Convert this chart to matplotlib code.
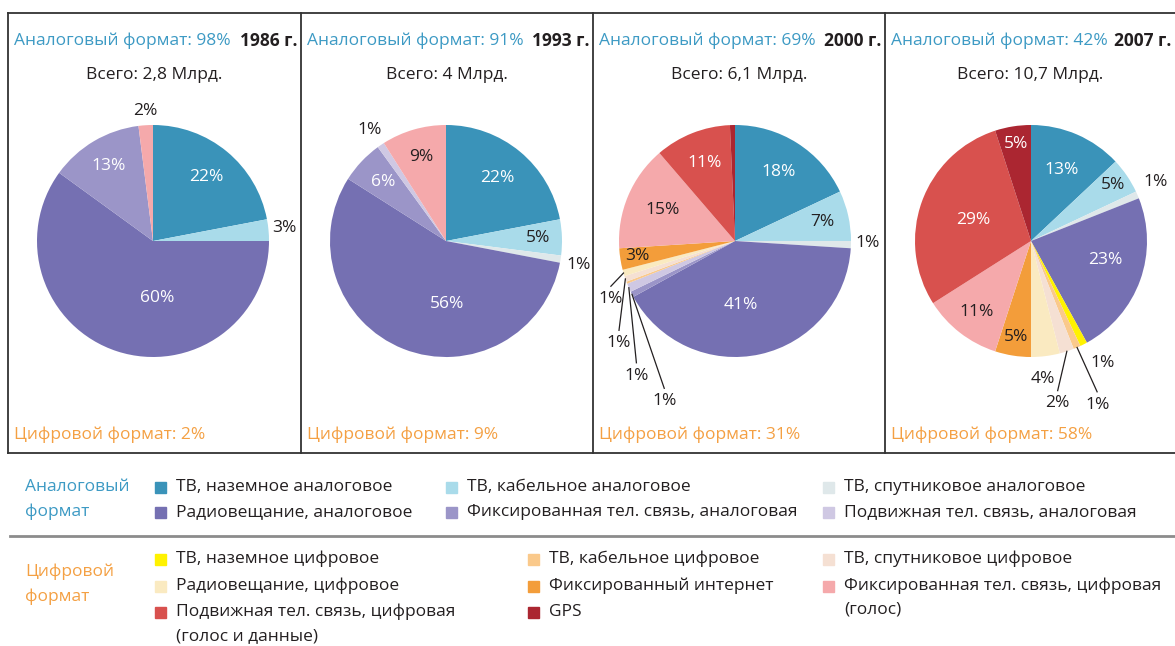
import numpy as np
import matplotlib.pyplot as plt

plt.rcParams['font.family'] = ['Open Sans', 'DejaVu Sans']

# categories (analog first, then digital)
categories = [
    "ТВ, наземное аналоговое", "ТВ, кабельное аналоговое", "ТВ, спутниковое аналоговое",
    "Радиовещание, аналоговое", "Фиксированная тел. связь, аналоговая", "Подвижная тел. связь, аналоговая",
    "ТВ, наземное цифровое", "ТВ, кабельное цифровое", "ТВ, спутниковое цифровое",
    "Радиовещание, цифровое", "Фиксированный интернет", "Фиксированная тел. связь, цифровая\n(голос)",
    "Подвижная тел. связь, цифровая\n(голос и данные)", "GPS",
]
colors = ["#3a93b9", "#a9dbea", "#dfe8ea", "#7570b2", "#9b95c8", "#cfc8e3",
          "#fff200", "#fac98b", "#f5e0d3", "#faeac1", "#f39d3a", "#f5a9ab",
          "#d8514e", "#ab2631"]
text_white = [0, 3, 4, 12, 13]

years = ["1986 г.", "1993 г.", "2000 г.", "2007 г."]
totals = ["2,8", "4", "6,1", "10,7"]
analog_share = [98, 91, 69, 42]
digital_share = [2, 9, 31, 58]

v1986 = [22, 3, 0, 60, 13, 0, 0, 0, 0, 0, 0, 2, 0, 0]
v1993 = [22, 5, 1, 56, 6, 1, 0, 0, 0, 0, 0, 9, 0, 0]
v2000 = [18, 7, 1, 41, 0.8, 1.2, 0, 0.3, 0.8, 0.9, 3, 14.7, 10.6, 0.7]
v2007 = [13, 5, 1, 23, 0, 0, 1, 1, 2, 4, 5, 11, 29, 5]
values = [v1986, v1993, v2000, v2007]

# label placement: ('in', dist) along mid angle, or ('xy', dx, dy, leader)
label_layout = [
    {0: ('in', .72), 1: ('xy', 1.13, .11, False), 3: ('xy', .04, -.49, False),
     4: ('in', .75), 11: ('xy', -.07, 1.12, False)},
    {0: ('in', .70), 1: ('in', .79), 2: ('xy', 1.14, -.21, False), 3: ('xy', .01, -.54, False),
     4: ('in', .745), 5: ('xy', -.655, .957, False), 11: ('in', .75)},
    {0: ('in', .70), 1: ('in', .77), 2: ('xy', 1.145, -.02, False), 3: ('xy', .05, -.55, False),
     4: ('xy', -.61, -1.38, True), 5: ('xy', -.85, -1.16, True), 8: ('xy', -1.0, -.88, True),
     9: ('xy', -1.07, -.50, True), 10: ('in', .85), 11: ('in', .68), 12: ('in', .72)},
    {0: ('in', .67), 1: ('in', .86), 2: ('xy', 1.07, .51, False), 3: ('xy', .64, -.16, False),
     6: ('xy', .62, -1.05, False), 7: ('xy', .57, -1.41, True), 8: ('xy', .23, -1.40, True),
     9: ('xy', .10, -1.19, False), 10: ('in', .84), 11: ('in', .77), 12: ('in', .53), 13: ('in', .846)},
]

W, H = 1175, 646
blue = "#3d9ac4"
orange = "#f4a043"
dark = "#231f20"
fs = 12.5

fig = plt.figure(figsize=(W / 100, H / 100), dpi=100)
bg = fig.add_axes([0, 0, 1, 1])
bg.set_xlim(0, W)
bg.set_ylim(H, 0)
bg.axis('off')

box_x = [8, 301, 593, 885, 1175]
centers = [153, 446, 735, 1031]
cy, r, k = 241, 116, 1.6

# boxes
bg.plot([box_x[0], W], [13, 13], color="#333333", lw=1.3)
bg.plot([box_x[0], W], [453, 453], color="#333333", lw=1.3)
for x in box_x[:4]:
    bg.plot([x, x], [13, 453], color="#333333", lw=1.3)

for i in range(4):
    x0, x1 = box_x[i], box_x[i + 1]
    bg.text(x0 + 6, 41, f"Аналоговый формат: {analog_share[i]}%", color=blue, fontsize=fs, va='center')
    bg.text(x1 - 4, 41, years[i], color=dark, fontsize=fs, fontweight='bold', va='center', ha='right')
    bg.text((x0 + x1) / 2, 75, f"Всего: {totals[i]} Млрд.", color=dark, fontsize=fs, va='center', ha='center')
    bg.text(x0 + 6, 435, f"Цифровой формат: {digital_share[i]}%", color=orange, fontsize=fs, va='center')

    cx = centers[i]
    ax = fig.add_axes([(cx - k * r) / W, (H - cy - k * r) / H, 2 * k * r / W, 2 * k * r / H])
    vals = values[i]
    ax.pie(vals, colors=colors, startangle=90, counterclock=False, radius=1,
           wedgeprops=dict(linewidth=0))
    ax.set_xlim(-k, k)
    ax.set_ylim(-k, k)
    ax.set_aspect('equal')
    ax.axis('off')

    cum = np.cumsum([0] + list(vals)) / sum(vals)
    for j, spec in label_layout[i].items():
        mid = np.deg2rad(90 - 360 * (cum[j] + cum[j + 1]) / 2)
        txt = f"{round(vals[j])}%"
        if spec[0] == 'in':
            px, py = spec[1] * np.cos(mid), spec[1] * np.sin(mid)
            c = "white" if j in text_white else dark
        else:
            px, py = spec[1], spec[2]
            c = "white" if (j in text_white and spec[1] ** 2 + spec[2] ** 2 < 1) else dark
            if spec[3]:
                ax.plot([np.cos(mid), px], [np.sin(mid), py + 0.11], color=dark, lw=0.9, clip_on=False)
        ax.text(px, py, txt, color=c, fontsize=fs, ha='center', va='center', clip_on=False)

# legend
bg.text(25, 487, "Аналоговый", color=blue, fontsize=fs, va='center')
bg.text(25, 512, "формат", color=blue, fontsize=fs, va='center')
bg.text(25, 572, "Цифровой", color=orange, fontsize=fs, va='center')
bg.text(25, 597, "формат", color=orange, fontsize=fs, va='center')
bg.plot([10, W], [536, 536], color="#8c8c8c", lw=2)

analog_cols = [155, 446, 823]
digital_cols = [155, 528, 823]
analog_rows = [487, 512]
digital_rows = [559, 586, 612]
for j in range(14):
    if j < 6:
        row, col = analog_rows[j // 3], analog_cols[j % 3]
    else:
        row, col = digital_rows[(j - 6) // 3], digital_cols[(j - 6) % 3]
    bg.add_patch(plt.Rectangle((col, row - 5.5), 11, 11, color=colors[j]))
    for n, line in enumerate(categories[j].split('\n')):
        bg.text(col + 21, row + 24 * n, line, color=dark, fontsize=fs, va='center')

fig.savefig("out.png", dpi=100)
